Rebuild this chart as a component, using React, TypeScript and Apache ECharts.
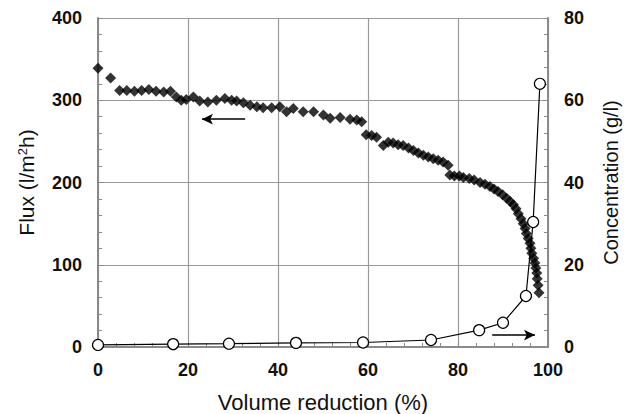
import React, { useEffect, useRef } from "react";
import * as echarts from "echarts";

const fluxX = [0, 2.8, 4.8, 6.4, 8.1, 9.7, 11.3, 12.9, 14.6, 16.1, 17.4, 18.5, 19.6, 21.2, 22.6, 24.4, 26.3, 28.2, 29.7, 30.8, 32.3, 33.8, 35.3, 36.7, 38.6, 40.4, 41.9, 43.4, 45.6, 47.9, 50.1, 51.6, 53.8, 56.0, 57.5, 58.6, 59.6, 60.8, 61.9, 63.4, 64.5, 65.6, 66.7, 67.8, 69.0, 70.1, 71.2, 72.3, 73.4, 74.5, 75.6, 76.7, 77.8, 78.2, 79.2, 80.3, 81.2, 82.5, 83.6, 84.9, 86.0, 87.1, 88.0, 88.9, 89.9, 90.8, 91.6, 92.3, 92.9, 93.4, 94.0, 94.5, 94.9, 95.2, 95.6, 96.0, 96.2, 96.4, 96.8, 97.1, 97.3, 97.5, 97.6, 97.8, 98.0];
const fluxY = [339, 327, 312, 312, 311, 312, 313, 311, 310, 311, 304, 300, 301, 304, 299, 298, 300, 302, 300, 299, 297, 294, 292, 291, 291, 292, 286, 290, 286, 286, 282, 278, 279, 277, 276, 274, 258, 257, 255, 245, 249, 248, 246, 245, 242, 239, 236, 233, 231, 229, 227, 225, 221, 209, 208, 208, 206, 205, 203, 200, 198, 195, 192, 189, 185, 181, 177, 173, 168, 162, 156, 150, 144, 138, 132, 126, 120, 114, 108, 102, 96, 90, 83, 75, 66];

const concX = [0, 16.7, 29.1, 44.0, 58.9, 74.0, 84.7, 90.0, 95.1, 96.7, 98.2];
const concY = [0.5, 0.7, 0.8, 1.0, 1.1, 1.7, 4.1, 5.9, 12.4, 30.4, 64.0];

const xTicks = [0, 20, 40, 60, 80, 100];
const fluxTicks = [0, 100, 200, 300, 400];
const concTicks = [0, 20, 40, 60, 80];

const leftArrow = { from: [32.7, 277], to: [23.1, 277] };
const rightArrow = { from: [87.6, 2.9], to: [97.1, 2.9] };

export default function App() {
  const ref = useRef<HTMLDivElement>(null);
  useEffect(() => {
    if (!ref.current) return;
    const chart = echarts.init(ref.current, undefined, { renderer: "svg" });
    const axisColor = "#8a8a8a";
    const font = "Liberation Sans, Arial, sans-serif";
    const labelStyle = {
      color: "#111",
      fontFamily: font,
      fontWeight: "bold" as const,
      fontSize: 18,
    };
    chart.setOption({
      animation: false,
      backgroundColor: "#fff",
      grid: { left: 98, right: 86, top: 18, bottom: 67, outerBoundsMode: "none", containLabel: false },
      xAxis: {
        type: "value",
        min: xTicks[0],
        max: xTicks[xTicks.length - 1],
        interval: 20,
        name: "Volume reduction (%)",
        nameLocation: "middle",
        nameGap: 44,
        nameTextStyle: { color: "#111", fontFamily: font, fontSize: 22 },
        axisLine: { show: true, lineStyle: { color: axisColor, width: 2 } },
        axisTick: { show: true, inside: true, length: 5, lineStyle: { color: axisColor } },
        minorTick: { show: true, splitNumber: 5, length: 4, lineStyle: { color: axisColor } },
        splitLine: { show: true, lineStyle: { color: "#9a9a9a", width: 1.2 } },
        axisLabel: { ...labelStyle, margin: 14 },
      },
      yAxis: [
        {
          type: "value",
          min: fluxTicks[0],
          max: fluxTicks[fluxTicks.length - 1],
          interval: 100,
          name: "{a|Flux (l/m}{s|2}{a|h)}",
          nameLocation: "middle",
          nameGap: 61,
          nameTextStyle: {
            color: "#111",
            fontFamily: font,
            fontSize: 21,
            rich: {
              a: { color: "#111", fontFamily: font, fontSize: 21 },
              s: { color: "#111", fontFamily: font, fontSize: 13, verticalAlign: "top", padding: [0, 0, 8, 0] },
            },
          },
          axisLine: { show: true, lineStyle: { color: axisColor, width: 2 } },
          axisTick: { show: true, inside: true, length: 5, lineStyle: { color: axisColor } },
          minorTick: { show: true, splitNumber: 5, length: 4, lineStyle: { color: axisColor } },
          splitLine: { show: true, lineStyle: { color: "#9a9a9a", width: 1.2 } },
          axisLabel: { ...labelStyle, margin: 16 },
        },
        {
          type: "value",
          min: concTicks[0],
          max: concTicks[concTicks.length - 1],
          interval: 20,
          name: "Concentration (g/l)",
          nameLocation: "middle",
          nameGap: 53,
          nameRotate: 90,
          nameTextStyle: { color: "#111", fontFamily: font, fontSize: 20 },
          axisLine: { show: true, lineStyle: { color: axisColor, width: 2 } },
          axisTick: { show: true, inside: true, length: 5, lineStyle: { color: axisColor } },
          minorTick: { show: true, splitNumber: 5, length: 4, lineStyle: { color: axisColor } },
          splitLine: { show: false },
          axisLabel: { ...labelStyle, margin: 16 },
        },
      ],
      series: [
        {
          type: "scatter",
          yAxisIndex: 0,
          symbol: "diamond",
          symbolSize: 11,
          itemStyle: { color: "#000" },
          data: fluxX.map((x, i) => [x, fluxY[i]]),
          z: 3,
          markLine: {
            silent: true,
            symbol: ["none", "arrow"],
            symbolSize: [8, 11],
            label: { show: false },
            lineStyle: { color: "#000", width: 1.5, type: "solid" },
            data: [[{ coord: leftArrow.from }, { coord: leftArrow.to }]],
          },
        },
        {
          type: "line",
          yAxisIndex: 1,
          symbol: "circle",
          symbolSize: 11,
          showSymbol: true,
          itemStyle: { color: "#fff", borderColor: "#000", borderWidth: 1.2 },
          lineStyle: { color: "#000", width: 1.2 },
          data: concX.map((x, i) => [x, concY[i]]),
          z: 4,
          markLine: {
            silent: true,
            symbol: ["none", "arrow"],
            symbolSize: [8, 11],
            label: { show: false },
            lineStyle: { color: "#000", width: 1.5, type: "solid" },
            data: [[{ coord: rightArrow.from }, { coord: rightArrow.to }]],
          },
        },
      ],
    });
    return () => chart.dispose();
  }, []);
  return <div ref={ref} style={{ width: 634, height: 414, position: "absolute", left: 0, top: 0 }} />;
}
